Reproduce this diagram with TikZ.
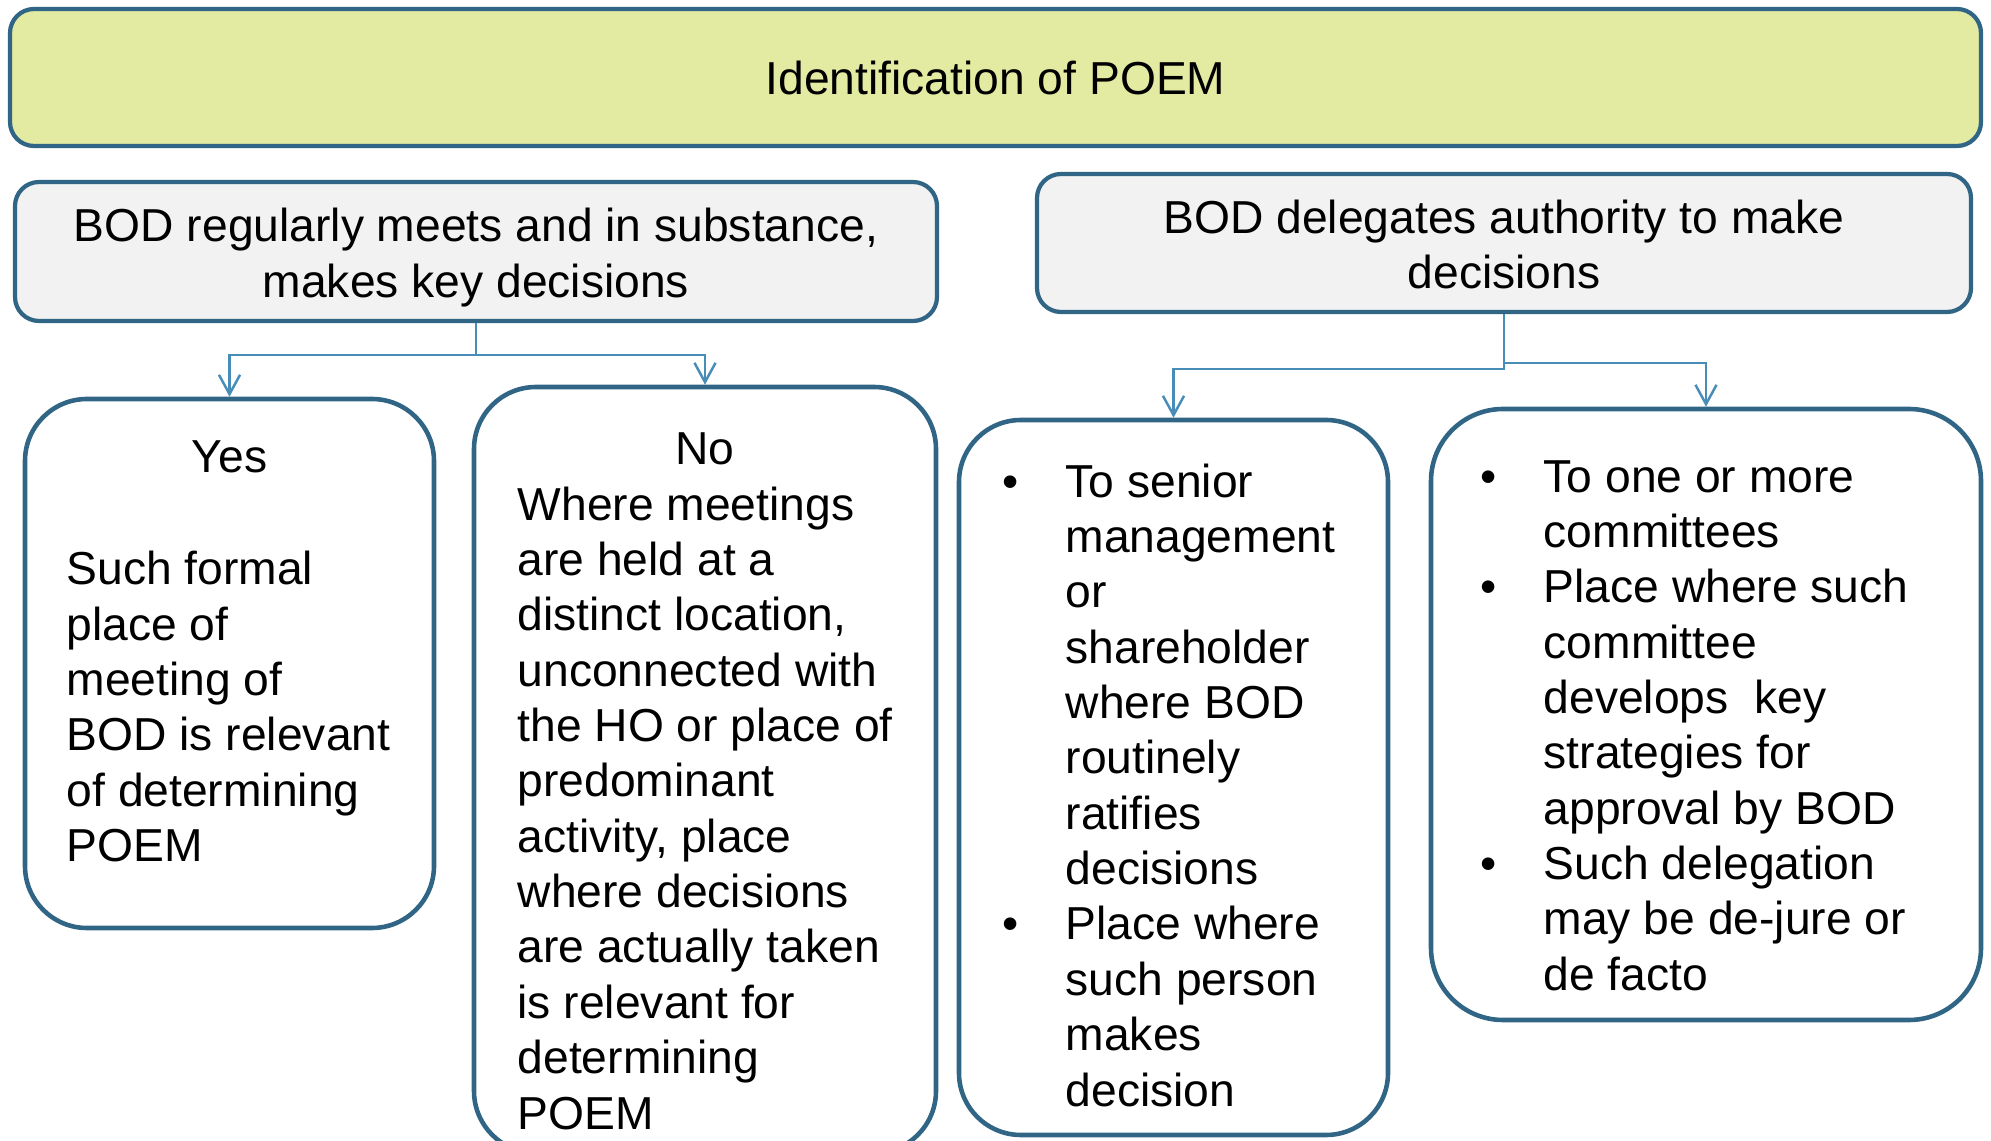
\documentclass[tikz,border=0pt]{standalone}
\usepackage{fontspec}
\setmainfont{Liberation Sans}
\usepackage{xcolor}
\usepackage{tikz}
\usetikzlibrary{arrows.meta}

\definecolor{edgeblue}{RGB}{49,101,133}
\definecolor{linkblue}{RGB}{72,140,184}
\definecolor{titlefill}{RGB}{227,234,161}
\definecolor{boxgray}{RGB}{242,242,242}

\newcommand{\bitem}{\llap{\textbullet\hspace{13.5pt}}}

\begin{document}
\begin{tikzpicture}[>={Straight Barb[length=5.5pt,width=6pt]},
  font=\fontsize{13.15}{15.75}\selectfont,
  card/.style={draw=edgeblue, line width=1.2pt, rounded corners=0.24cm, inner sep=0pt},
  pane/.style={draw=edgeblue, line width=1.3pt, rounded corners=0.62cm, inner sep=0pt},
  body/.style={anchor=north west, align=left, inner sep=0pt},
  link/.style={draw=linkblue, line width=0.7pt}]
  \useasboundingbox (0,0) rectangle (19.91,-11.41);

  \node[card, fill=titlefill, minimum width=19.71cm, minimum height=1.37cm] (title) at (9.955,-0.775)
    {\rule{0pt}{10pt}Identification of POEM};
  \node[card, fill=boxgray, minimum width=9.22cm, minimum height=1.39cm, align=center] (meet) at (4.76,-2.515)
    {\rule{0pt}{12.9pt}BOD regularly meets and in substance,\\makes key decisions};
  \node[card, fill=boxgray, minimum width=9.34cm, minimum height=1.38cm, align=center] (deleg) at (15.04,-2.43)
    {\rule{0pt}{10.4pt}BOD delegates authority to make\\decisions};

  \node[pane, minimum width=4.09cm, minimum height=5.29cm] (yes) at (2.295,-6.635) {};
  \node[pane, minimum width=4.62cm, minimum height=7.66cm] (no) at (7.05,-7.70) {};
  \node[pane, minimum width=4.29cm, minimum height=7.15cm] (senior) at (11.735,-7.775) {};
  \node[pane, rounded corners=0.72cm, minimum width=5.5cm, minimum height=6.11cm] (cmte) at (17.06,-7.145) {};

  \node[anchor=base, inner sep=0pt] (yeshead) at (2.295,-4.727) {Yes};
  \node[body] (yestext) at (0.66,-5.453) {\strut Such formal\\place of\\meeting of\\BOD is relevant\\of determining\\POEM};
  \node[anchor=base, inner sep=0pt] (nohead) at (7.05,-4.647) {No};
  \node[body] (notext) at (5.17,-4.807) {\strut Where meetings\\are held at a\\distinct location,\\unconnected with\\the HO or place of\\predominant\\activity, place\\where decisions\\are actually taken\\is relevant for\\determining\\POEM};
  \node[body] (seniortext) at (10.65,-4.577) {\strut\bitem To senior\\management\\or\\shareholder\\where BOD\\routinely\\ratifies\\decisions\\\bitem Place where\\such person\\makes\\decision};
  \node[body] (cmtetext) at (15.43,-4.527) {\strut\bitem To one or more\\committees\\\bitem Place where such\\committee\\develops\ \ key\\strategies for\\approval by BOD\\\bitem Such delegation\\may be de-jure or\\de facto};

  \draw[link,->] (meet.south) -- ++(0,-0.32) -| (yes.north);
  \draw[link,->] (meet.south) -- ++(0,-0.32) -| (no.north);
  \draw[link,->] (deleg.south) -- ++(0,-0.55) -| (senior.north);
  \draw[link,->] (deleg.south) -- ++(0,-0.49) -| (cmte.north);
\end{tikzpicture}
\end{document}
